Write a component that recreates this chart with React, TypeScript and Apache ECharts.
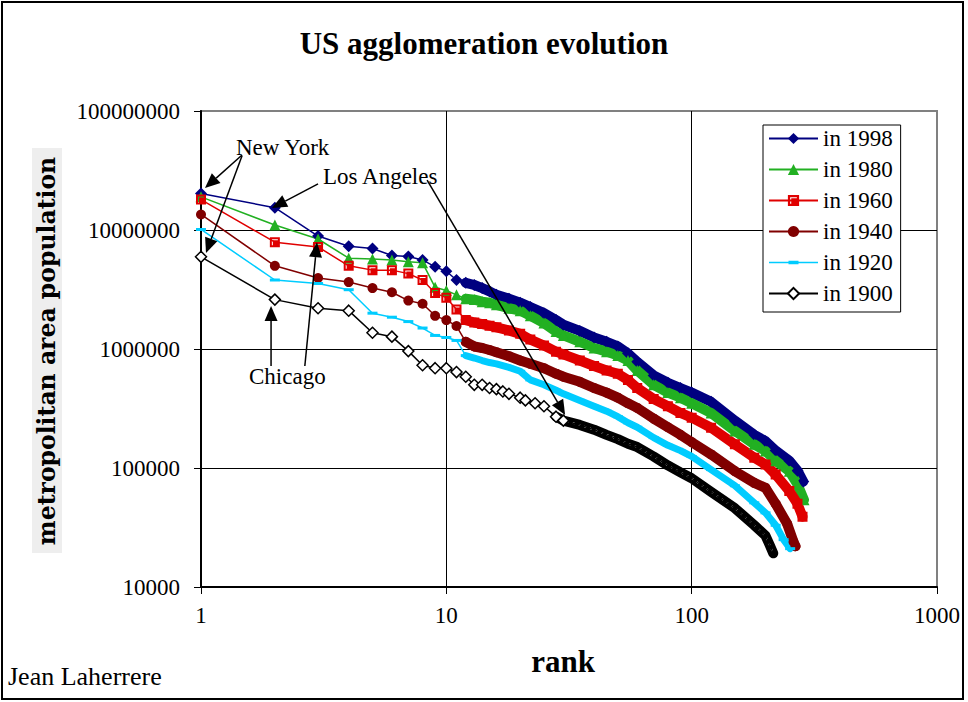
import React, { useEffect, useRef } from 'react';
import * as echarts from 'echarts';

const SERIF = "'Liberation Serif', 'Times New Roman', serif";
const HEAVY = "'DejaVu Serif', serif";

const TITLE = 'US agglomeration evolution';
const X_NAME = 'rank';
const Y_NAME = 'metropolitan area population';
const AUTHOR = 'Jean Laherrere';

const YEARS = ['in 1998', 'in 1980', 'in 1960', 'in 1940', 'in 1920', 'in 1900'];

const RANK_1998 = [1, 2, 3, 4, 5, 6, 7, 8, 9, 10, 11, 12, 13, 14, 15, 16, 18, 20, 22, 25, 28, 30, 35, 40, 45, 50, 55, 60, 70, 80, 90, 100, 120, 150, 180, 200, 220, 250, 270, 285];
const POP_1998 = [20300000, 15400000, 8900000, 7300000, 7000000, 6100000, 6000000, 5600000, 4900000, 4500000, 3800000, 3600000, 3450000, 3250000, 3050000, 2850000, 2650000, 2450000, 2250000, 2000000, 1750000, 1600000, 1420000, 1250000, 1150000, 1050000, 920000, 780000, 600000, 520000, 470000, 430000, 360000, 250000, 190000, 168000, 140000, 115000, 95000, 77000];

const RANK_1980 = [1, 2, 3, 4, 5, 6, 7, 8, 9, 10, 11, 12, 13, 14, 15, 16, 18, 20, 22, 25, 28, 30, 35, 40, 45, 50, 55, 60, 70, 80, 90, 100, 120, 150, 180, 200, 220, 250, 270, 287];
const POP_1980 = [19000000, 11000000, 8400000, 5800000, 5700000, 5600000, 5400000, 5300000, 3300000, 3100000, 2850000, 2650000, 2600000, 2500000, 2450000, 2350000, 2200000, 2100000, 1900000, 1650000, 1400000, 1300000, 1150000, 1020000, 950000, 880000, 800000, 660000, 500000, 430000, 390000, 350000, 290000, 205000, 158000, 139000, 115000, 94000, 73000, 54000];

const RANK_1960 = [1, 2, 3, 4, 5, 6, 7, 8, 9, 10, 11, 12, 13, 14, 15, 16, 18, 20, 22, 25, 28, 30, 35, 40, 45, 50, 55, 60, 70, 80, 90, 100, 120, 150, 180, 200, 220, 250, 270, 283];
const POP_1960 = [18000000, 7900000, 7200000, 5000000, 4600000, 4600000, 4300000, 3800000, 2950000, 2700000, 2150000, 1750000, 1670000, 1620000, 1570000, 1520000, 1430000, 1340000, 1200000, 1070000, 950000, 900000, 800000, 720000, 660000, 620000, 550000, 470000, 380000, 330000, 290000, 265000, 218000, 158000, 122000, 107000, 88000, 64000, 50000, 39000];

const RANK_1940 = [1, 2, 3, 4, 5, 6, 7, 8, 9, 10, 11, 12, 13, 14, 15, 16, 18, 20, 22, 25, 28, 30, 35, 40, 45, 50, 55, 60, 70, 80, 90, 100, 120, 150, 180, 200, 220, 245, 260, 265];
const POP_1940 = [13500000, 5000000, 3950000, 3650000, 3250000, 3000000, 2550000, 2400000, 1900000, 1750000, 1560000, 1150000, 1050000, 1020000, 980000, 940000, 870000, 800000, 750000, 690000, 620000, 585000, 530000, 470000, 430000, 390000, 350000, 320000, 260000, 220000, 190000, 165000, 130000, 94000, 75000, 68000, 50000, 34000, 24000, 22000];

const RANK_1920 = [1, 2, 3, 4, 5, 6, 7, 8, 9, 10, 11, 12, 13, 14, 15, 16, 18, 20, 22, 25, 28, 30, 35, 40, 45, 50, 55, 60, 70, 80, 90, 100, 120, 150, 180, 200, 220, 237, 252];
const POP_1920 = [10100000, 3800000, 3550000, 3150000, 2000000, 1850000, 1700000, 1500000, 1300000, 1250000, 1180000, 880000, 840000, 800000, 770000, 750000, 700000, 650000, 550000, 500000, 450000, 420000, 370000, 330000, 300000, 270000, 240000, 220000, 180000, 155000, 140000, 125000, 97000, 71000, 51000, 42000, 33000, 25000, 21000];

const RANK_1900 = [1, 2, 3, 4, 5, 6, 7, 8, 9, 10, 11, 12, 13, 14, 15, 16, 17, 18, 20, 21, 23, 25, 28, 30, 35, 40, 45, 50, 55, 60, 70, 80, 90, 100, 120, 150, 180, 200, 208, 215];
const POP_1900 = [5950000, 2600000, 2200000, 2100000, 1370000, 1270000, 960000, 730000, 690000, 690000, 640000, 585000, 500000, 500000, 470000, 460000, 440000, 420000, 390000, 370000, 350000, 330000, 270000, 250000, 230000, 210000, 190000, 175000, 160000, 150000, 125000, 105000, 92000, 82000, 63000, 46000, 33000, 27000, 22500, 19200];

// annotation labels (left edge, vertical middle) and arrows, in data coordinates [rank, population]
const ANNOTATIONS = [
  { text: 'New York', at: [1.389, 48900000] },
  { text: 'Los Angeles', at: [3.144, 28400000] },
  { text: 'Chicago', at: [1.569, 582000] },
];
const ARROWS = [
  { from: [1.47, 42700000], to: [1.038, 22500000] },
  { from: [1.47, 42000000], to: [1.048, 6400000] },
  { from: [3.0, 24400000], to: [1.947, 15300000] },
  { from: [8.35, 26300000], to: [30.5, 279000] },
  { from: [1.93, 720000], to: [1.93, 2300000] },
  { from: [2.65, 720000], to: [2.97, 7900000] },
];

const SQUARE_PATH = 'path://M0,0L10,0L10,10L0,10Z M2,2L2,8L3,8L3,3L8,3L8,2Z';
const DASH_PATH = 'path://M0,0L10,0L10,3L0,3Z';
const DASH_LEGEND = 'path://M0,1L49,1L49,2.5L0,2.5Z M19.5,0L29.5,0L29.5,3.5L19.5,3.5Z';

const STYLES = [
  { color: '#000080', fill: '#000080', symbol: 'diamond', size: 12, keep: false, band: 10, bandFrom: 12, markTo: 9999 },
  { color: '#22B022', fill: '#22B022', symbol: 'triangle', size: 11, keep: false, band: 10, bandFrom: 12, markTo: 9999 },
  { color: '#E00000', fill: '#E00000', symbol: SQUARE_PATH, size: 10, keep: true, band: 10, bandFrom: 12, markTo: 9999 },
  { color: '#800000', fill: '#800000', symbol: 'circle', size: 10, keep: false, band: 10, bandFrom: 12, markTo: 9999 },
  { color: '#00CCFF', fill: '#00CCFF', symbol: DASH_PATH, size: 10, keep: true, band: 7, bandFrom: 12, markTo: 9999 },
  { color: '#000000', fill: '#FFFFFF', symbol: 'diamond', size: 11, keep: false, band: 10, bandFrom: 28, markTo: 30 },
];

const DATA = [
  [RANK_1998, POP_1998],
  [RANK_1980, POP_1980],
  [RANK_1960, POP_1960],
  [RANK_1940, POP_1940],
  [RANK_1920, POP_1920],
  [RANK_1900, POP_1900],
];

function buildSeries() {
  const out: any[] = [];
  DATA.forEach(([ranks, pops], i) => {
    const st = STYLES[i];
    const pts = ranks.map((r, k) => [r, pops[k]]);
    const band = pts.filter((p) => p[0] >= st.bandFrom);
    out.push({
      type: 'line',
      name: YEARS[i] + ' band',
      data: band,
      symbol: 'none',
      silent: true,
      lineStyle: { color: st.color, width: st.band, cap: 'round', join: 'round' },
      emphasis: { disabled: true },
    });
    if (i === 5) {
      out.push({
        type: 'line',
        name: YEARS[i] + ' specks',
        data: band,
        symbol: 'none',
        silent: true,
        lineStyle: { color: '#FFFFFF', width: 1.5, type: [2, 4] },
        emphasis: { disabled: true },
      });
    }
    out.push({
      type: 'line',
      name: YEARS[i],
      data: pts.map((p) => (p[0] > st.markTo ? { value: p, symbol: 'none' } : p)),
      symbol: st.symbol,
      symbolSize: st.size,
      symbolKeepAspect: st.keep,
      color: st.color,
      lineStyle: { color: st.color, width: 1.5 },
      itemStyle: {
        color: st.fill,
        borderColor: st.color,
        borderWidth: i === 5 ? 1.5 : 0,
      },
      emphasis: { disabled: true },
    });
  });
  return out;
}

export default function App() {
  const ref = useRef<HTMLDivElement>(null);
  useEffect(() => {
    if (!ref.current) return;
    const chart = echarts.init(ref.current, undefined, { renderer: 'svg' });
    const axisLabel = { color: '#000', fontFamily: SERIF, fontSize: 23 };
    chart.setOption({
      animation: false,
      backgroundColor: '#fff',
      title: {
        text: TITLE,
        left: 'center',
        top: 23,
        textStyle: { fontFamily: SERIF, fontSize: 31, fontWeight: 'bold', color: '#000' },
      },
      legend: {
        data: YEARS.map((y, i) => (i === 4 ? { name: y, icon: DASH_LEGEND } : y)),
        orient: 'vertical',
        left: 763,
        top: 125,
        padding: [2, 8, 7, 5],
        itemWidth: 49,
        itemHeight: 14,
        itemGap: 8,
        backgroundColor: '#fff',
        borderColor: '#000',
        borderWidth: 1,
        borderRadius: 0,
        selectedMode: false,
        symbolKeepAspect: true,
        textStyle: { fontFamily: SERIF, fontSize: 23, color: '#000', lineHeight: 23 },
      },
      grid: {
        left: 201,
        top: 111,
        right: 31,
        bottom: 115,
        show: true,
        borderColor: '#808080',
        borderWidth: 2,
        backgroundColor: 'transparent',
      },
      xAxis: {
        type: 'log',
        logBase: 10,
        min: 1,
        max: 1000,
        axisLine: { show: true, onZero: false, lineStyle: { color: '#000', width: 2 } },
        axisTick: { show: true, length: 7, lineStyle: { color: '#000', width: 1 } },
        minorTick: { show: false },
        axisLabel: { ...axisLabel, margin: 17, formatter: (v: number) => String(Math.round(v)) },
        splitLine: { show: true, showMaxLine: false, lineStyle: { color: '#000', width: 1 } },
      },
      yAxis: {
        type: 'log',
        logBase: 10,
        min: 10000,
        max: 100000000,
        axisLine: { show: true, onZero: false, lineStyle: { color: '#000', width: 2 } },
        axisTick: { show: true, length: 7, lineStyle: { color: '#000', width: 1 } },
        minorTick: { show: false },
        axisLabel: { ...axisLabel, margin: 21, formatter: (v: number) => String(Math.round(v)) },
        splitLine: { show: true, showMaxLine: false, lineStyle: { color: '#000', width: 1 } },
      },
      series: buildSeries(),
    });

    const toPx = (p: number[]) => chart.convertToPixel({ gridIndex: 0 }, p) as number[];
    const graphics: any[] = [
      {
        type: 'rect',
        shape: { x: 2, y: 2, width: 961, height: 697 },
        style: { fill: 'none', stroke: '#000', lineWidth: 2 },
        silent: true,
        z: 50,
      },
      {
        type: 'rect',
        shape: { x: 32, y: 148, width: 30, height: 405 },
        style: { fill: '#EEEEEE' },
        silent: true,
        z: 50,
      },
      {
        type: 'text',
        x: 47,
        y: 351,
        rotation: Math.PI / 2,
        style: {
          text: Y_NAME,
          fontFamily: HEAVY,
          fontWeight: 'bold',
          fontSize: 23.5,
          fill: '#000',
          textAlign: 'center',
          textVerticalAlign: 'middle',
        },
        silent: true,
        z: 51,
      },
      {
        type: 'text',
        x: 563,
        y: 661,
        style: {
          text: X_NAME,
          fontFamily: SERIF,
          fontWeight: 'bold',
          fontSize: 31,
          fill: '#000',
          textAlign: 'center',
          textVerticalAlign: 'middle',
        },
        silent: true,
        z: 51,
      },
      {
        type: 'text',
        x: 8,
        y: 676,
        style: {
          text: AUTHOR,
          fontFamily: SERIF,
          fontSize: 26,
          fill: '#000',
          textAlign: 'left',
          textVerticalAlign: 'middle',
        },
        silent: true,
        z: 51,
      },
    ];
    ANNOTATIONS.forEach((a) => {
      const [x, y] = toPx(a.at);
      graphics.push({
        type: 'text',
        x,
        y,
        style: {
          text: a.text,
          fontFamily: SERIF,
          fontSize: 23,
          fill: '#000',
          textAlign: 'left',
          textVerticalAlign: 'middle',
        },
        silent: true,
        z: 100,
      });
    });
    ARROWS.forEach((a) => {
      const [fx, fy] = toPx(a.from);
      const [tx, ty] = toPx(a.to);
      const dx = tx - fx;
      const dy = ty - fy;
      const len = Math.hypot(dx, dy) || 1;
      const ux = dx / len;
      const uy = dy / len;
      const hl = 15;
      const hw = 6.5;
      const bx = tx - ux * hl;
      const by = ty - uy * hl;
      graphics.push({
        type: 'line',
        shape: { x1: fx, y1: fy, x2: bx, y2: by },
        style: { stroke: '#000', lineWidth: 1.5 },
        silent: true,
        z: 100,
      });
      graphics.push({
        type: 'polygon',
        shape: { points: [[tx, ty], [bx - uy * hw, by + ux * hw], [bx + uy * hw, by - ux * hw]] },
        style: { fill: '#000' },
        silent: true,
        z: 100,
      });
    });
    chart.setOption({ graphic: graphics });

    return () => chart.dispose();
  }, []);
  return (
    <div
      ref={ref}
      style={{ position: 'fixed', left: 0, top: 0, width: 968, height: 702, background: '#fff' }}
    />
  );
}
